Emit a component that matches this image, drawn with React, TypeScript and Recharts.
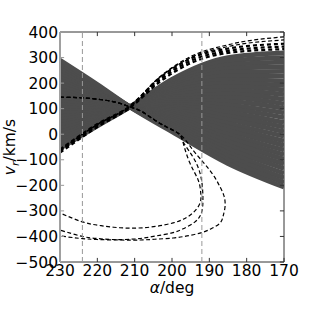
import React from 'react'
import { LineChart, Line, XAxis, YAxis, ReferenceLine, ReferenceArea, Label } from 'recharts'

const xTicks = [230, 220, 210, 200, 190, 180, 170]
const yTicks = [-500, -400, -300, -200, -100, 0, 100, 200, 300, 400]
const markerAlphas = [224, 192]

// grey fan of model curves, all crossing near alpha = 211.25, v = 107
const pivotAlpha = 211.25
const pivotV = 107
const fan230 = [-55, -43, -31, -19, -7, 4, 16, 28, 40, 52, 64, 76, 88, 100, 112, 123, 135, 147, 159, 171, 183, 195, 207, 219, 231, 243, 255, 267, 278, 290]
const fan220 = [32, 38, 43, 49, 54, 60, 66, 71, 77, 83, 88, 94, 99, 105, 111, 116, 122, 128, 133, 139, 144, 150, 156, 161, 167, 173, 178, 184, 189, 195]
const fan200 = [215, 208, 201, 194, 187, 180, 173, 166, 158, 151, 144, 137, 130, 123, 116, 109, 102, 95, 88, 81, 74, 66, 59, 52, 45, 38, 31, 24, 17, 10]
const fan185 = [300, 286, 271, 257, 243, 228, 214, 200, 186, 171, 157, 143, 128, 114, 100, 85, 71, 57, 42, 28, 14, -1, -15, -29, -44, -58, -72, -86, -101, -115]
const fan170 = [318, 300, 282, 264, 246, 227, 209, 191, 173, 155, 137, 119, 101, 83, 65, 46, 28, 10, -8, -26, -44, -62, -80, -98, -116, -134, -153, -171, -189, -207]

// thick black dashed bundle on the rising edge
const bundleAlpha = [230, 220, 211.25, 203, 195, 185, 170]
const bundleLines = [
  [-72, 28, 104, 208, 278, 318, 333],
  [-66, 34, 107, 216, 287, 326, 343],
  [-60, 40, 110, 224, 296, 335, 354],
]
const thinTopLines = [
  [-62, 38, 110, 226, 300, 343, 369],
  [-62, 38, 110, 228, 304, 350, 381],
]

// dashed loops: shared upper branch, then three turn-arounds
const upperAlpha = [230, 225, 220, 215, 211.25, 208, 204.6, 201, 198]
const upperV = [145, 143, 137, 125, 107, 88, 55, 25, 0]
const loopAAlpha = [197, 195.2, 193, 192.3, 192.5, 194.4, 197, 199.7, 204, 209, 214, 219, 224, 230]
const loopAV = [-34, -113, -179, -230, -270, -308, -333, -347, -360, -367, -366, -358, -343, -308]
const loopBAlpha = [197, 194.4, 192.5, 191.8, 191.8, 192.5, 194, 197, 200, 205, 210, 216, 220, 224, 230]
const loopBV = [-30, -89, -152, -218, -285, -320, -345, -370, -386, -400, -410, -412, -408, -400, -375]
const loopCAlpha = [196, 194.4, 192.5, 190.6, 188.7, 187.1, 186, 185.8, 186.3, 187.1, 189.5, 192.5, 196, 199.7, 204.6, 208.6, 213.4, 220, 225, 230]
const loopCV = [-30, -62, -95, -128, -165, -207, -245, -285, -320, -347, -370, -387, -398, -406, -411, -414, -414, -412, -407, -398]

const font = 'DejaVu Sans, sans-serif'

const toPts = (alpha: number[], v: number[]) => alpha.map((a, i) => ({ a, v: v[i] }))

const fanLines = fan230.map((_, i) => [
  { a: 230, v: fan230[i] },
  { a: 220, v: fan220[i] },
  { a: pivotAlpha, v: pivotV },
  { a: 200, v: fan200[i] },
  { a: 185, v: fan185[i] },
  { a: 170, v: fan170[i] },
])

const upper = toPts(upperAlpha, upperV)
const loops = [
  upper.concat(toPts(loopAAlpha, loopAV)),
  upper.concat(toPts(loopBAlpha, loopBV)),
  upper.concat(toPts(loopCAlpha, loopCV)),
]

const fmt = (v: number) => (v < 0 ? `\u2212${-v}` : `${v}`)

function XTitle(props: any) {
  const { viewBox } = props
  const cx = viewBox.x + viewBox.width / 2
  return (
    <text x={cx} y={viewBox.y + 31} textAnchor="middle" fontSize={15.5} fontFamily={font} fill="#000">
      <tspan fontStyle="italic">α</tspan>/deg
    </text>
  )
}

function YTitle(props: any) {
  const { viewBox } = props
  const cy = viewBox.y + viewBox.height / 2
  const x = 15
  return (
    <text x={x} y={cy} transform={`rotate(-90, ${x}, ${cy})`} textAnchor="middle" fontSize={15.5} fontFamily={font} fill="#000">
      <tspan fontStyle="italic">v</tspan>
      <tspan dy={4} fontSize={11} fontStyle="italic">r</tspan>
      <tspan dy={-4}>/km/s</tspan>
    </text>
  )
}

export default function App() {
  return (
    <div style={{ position: 'absolute', left: 0, top: 0, width: 316, height: 316, background: '#fff' }}>
      <LineChart width={316} height={316} margin={{ top: 32, right: 32, bottom: 0, left: 0 }}>
        <XAxis
          dataKey="a"
          type="number"
          domain={[170, 230]}
          reversed
          ticks={xTicks}
          allowDataOverflow
          axisLine={false}
          tickLine={false}
          tickSize={0}
          tickMargin={3}
          height={54}
          tickFormatter={fmt}
          tick={{ fill: '#000', fontSize: 15.5, fontFamily: font }}
        >
          <Label content={XTitle} />
        </XAxis>
        <YAxis
          dataKey="v"
          type="number"
          domain={[-500, 400]}
          ticks={yTicks}
          allowDataOverflow
          axisLine={false}
          tickLine={false}
          tickSize={0}
          tickMargin={2}
          width={60}
          tickFormatter={fmt}
          tick={{ fill: '#000', fontSize: 15.5, fontFamily: font }}
        >
          <Label content={YTitle} />
        </YAxis>

        {fanLines.map((d, i) => (
          <Line
            key={`fan${i}`}
            data={d}
            dataKey="v"
            type="monotone"
            stroke="#4d4d4d"
            strokeWidth={4.8}
            dot={false}
            isAnimationActive={false}
          />
        ))}
        {bundleLines.map((v, i) => (
          <Line
            key={`b${i}`}
            data={toPts(bundleAlpha, v)}
            dataKey="v"
            type="monotone"
            stroke="#000"
            strokeWidth={2.2}
            strokeDasharray="4 3"
            dot={false}
            isAnimationActive={false}
          />
        ))}
        {thinTopLines.map((v, i) => (
          <Line
            key={`t${i}`}
            data={toPts(bundleAlpha, v)}
            dataKey="v"
            type="monotone"
            stroke="#000"
            strokeWidth={1.2}
            strokeDasharray="4 2.5"
            dot={false}
            isAnimationActive={false}
          />
        ))}
        {loops.map((d, i) => (
          <Line
            key={`l${i}`}
            data={d}
            dataKey="v"
            type="natural"
            stroke="#000"
            strokeWidth={1.2}
            strokeDasharray="4 2.5"
            dot={false}
            isAnimationActive={false}
          />
        ))}

        {markerAlphas.map((a) => (
          <ReferenceLine key={`m${a}`} x={a} stroke="#999" strokeWidth={1} strokeDasharray="5 3" />
        ))}

        {xTicks.map((t) => (
          <ReferenceLine key={`xb${t}`} segment={[{ x: t, y: -500 }, { x: t, y: -484 }]} stroke="#333" />
        ))}
        {xTicks.map((t) => (
          <ReferenceLine key={`xt${t}`} segment={[{ x: t, y: 400 }, { x: t, y: 384 }]} stroke="#333" />
        ))}
        {yTicks.map((t) => (
          <ReferenceLine key={`yr${t}`} segment={[{ x: 170, y: t }, { x: 171.1, y: t }]} stroke="#333" />
        ))}
        {yTicks.map((t) => (
          <ReferenceLine key={`yl${t}`} segment={[{ x: 230, y: t }, { x: 228.9, y: t }]} stroke="#999" />
        ))}

        <ReferenceArea x1={230} x2={170} y1={-500} y2={400} fillOpacity={0} stroke="#333" strokeWidth={1} />
        <ReferenceLine x={230} stroke="#a0a0a0" strokeWidth={2} />
      </LineChart>
    </div>
  )
}
